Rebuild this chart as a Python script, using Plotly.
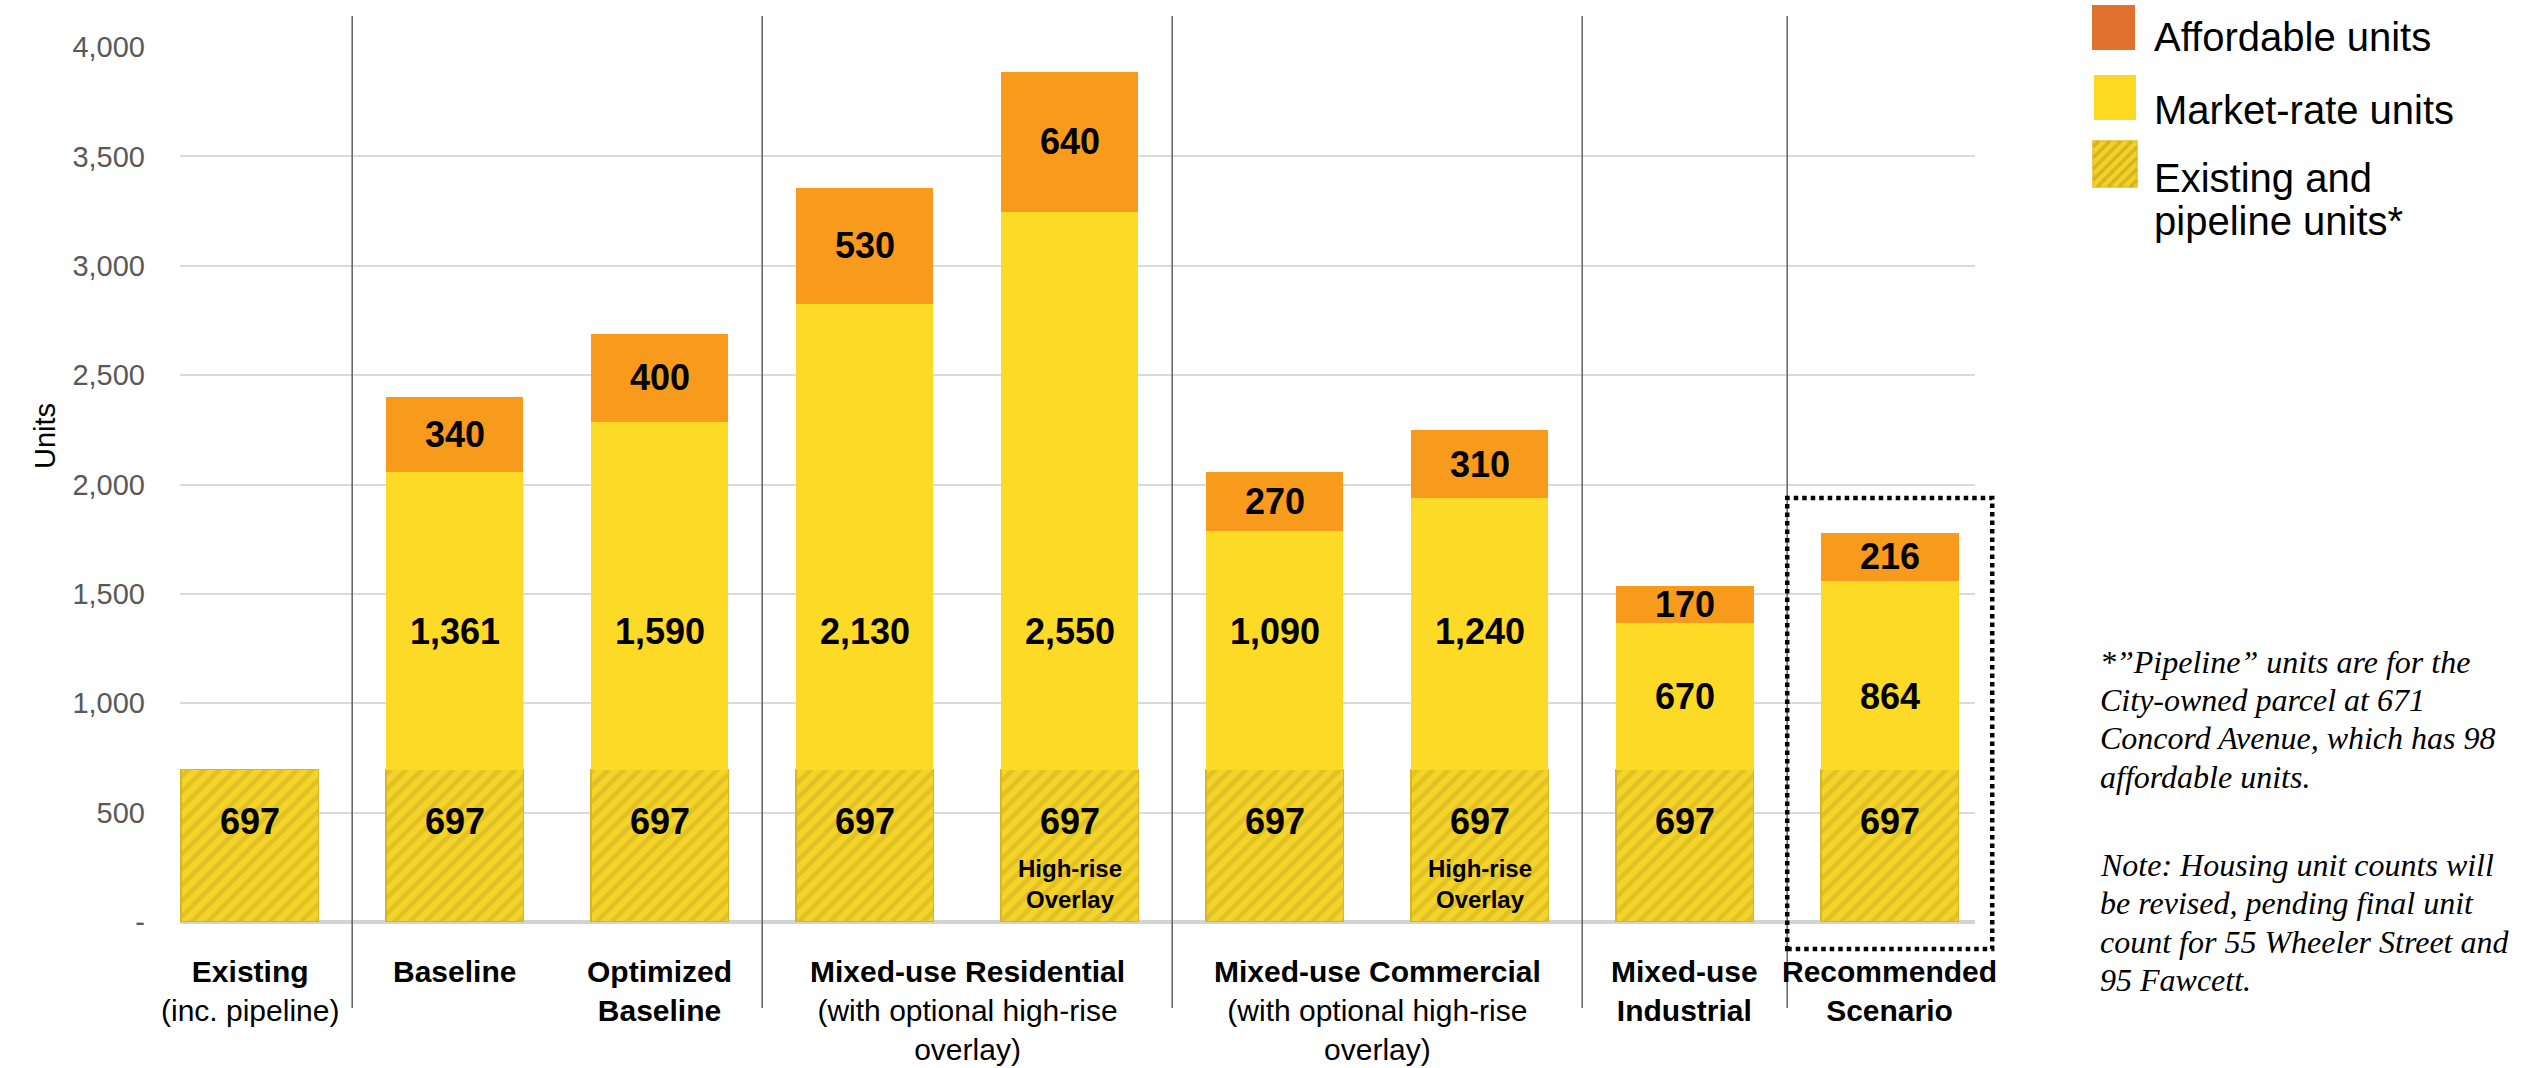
import plotly.graph_objects as go

# ---------------- data ----------------
categories = [
    "Existing",
    "Baseline",
    "Optimized Baseline",
    "Mixed-use Residential",
    "Mixed-use Residential (high-rise)",
    "Mixed-use Commercial",
    "Mixed-use Commercial (high-rise)",
    "Mixed-use Industrial",
    "Recommended Scenario",
]
existing_units = [697, 697, 697, 697, 697, 697, 697, 697, 697]
market_units = [None, 1361, 1590, 2130, 2550, 1090, 1240, 670, 864]
affordable_units = [None, 340, 400, 530, 640, 270, 310, 170, 216]
high_rise = [False, False, False, False, True, False, True, False, False]

y_ticks = [0, 500, 1000, 1500, 2000, 2500, 3000, 3500, 4000]
y_tick_text = ["-", "500", "1,000", "1,500", "2,000", "2,500", "3,000", "3,500", "4,000"]

group_labels = [
    "<b>Existing</b><br>(inc. pipeline)",
    "<b>Baseline</b>",
    "<b>Optimized<br>Baseline</b>",
    "<b>Mixed-use Residential</b><br>(with optional high-rise<br>overlay)",
    "<b>Mixed-use Commercial</b><br>(with optional high-rise<br>overlay)",
    "<b>Mixed-use<br>Industrial</b>",
    "<b>Recommended<br>Scenario</b>",
]

legend_labels = ["Affordable units", "Market-rate units", "Existing and", "pipeline units*"]

note_lines = [
    "*\u201dPipeline\u201d units are for the",
    "City-owned parcel at 671",
    "Concord Avenue, which has 98",
    "affordable units.",
    "Note: Housing unit counts will",
    "be revised, pending final unit",
    "count for 55 Wheeler Street and",
    "95 Fawcett.",
]

# ---------------- layout constants ----------------
W, H = 2526, 1068
PL, PR, PT, PB = 180, 551, 47, 146
PW, PH = W - PL - PR, H - PT - PB
X_RANGE = [-0.34, 8.416]
group_pos = [0, 1, 2, 3.5, 5.5, 7, 8]
separator_pos = [0.5, 2.5, 4.5, 6.5, 7.5]
market_label_at = [None, 1330, 1330, 1330, 1330, 1330, 1330, 1030, 1030]

SANS = "Arial, Liberation Sans, sans-serif"
SERIF = "Times New Roman, Liberation Serif, serif"

C_AFF = "#F89B1D"
C_MKT = "#FDDA25"
C_EXI = "#F5D42A"
C_HATCH = "#D0AE1E"


def px2x(px):
    return (px - PL) / PW


def py2y(py):
    return (PT + PH - py) / PH


def idx2x(i):
    return (i - X_RANGE[0]) / (X_RANGE[1] - X_RANGE[0])


fig = go.Figure()

fig.add_trace(go.Bar(
    x=categories, y=existing_units, name="Existing and pipeline units*",
    marker=dict(
        color=C_EXI,
        line=dict(color="#D6B622", width=1.5),
        pattern=dict(shape="/", fgcolor=C_HATCH, size=11, solidity=0.45),
    ),
    hoverinfo="skip",
))
fig.add_trace(go.Bar(
    x=categories, y=market_units, name="Market-rate units",
    marker=dict(color=C_MKT, line=dict(width=0)),
    hoverinfo="skip",
))
fig.add_trace(go.Bar(
    x=categories, y=affordable_units, name="Affordable units",
    marker=dict(color=C_AFF, line=dict(width=0)),
    hoverinfo="skip",
))

annotations = []
label_font = dict(family=SANS, size=36, color="black")

for i, cat in enumerate(categories):
    ex = existing_units[i]
    annotations.append(dict(
        x=cat, y=ex / 2, xref="x", yref="y", text=f"<b>{ex:,}</b>",
        showarrow=False, font=label_font, yshift=24,
    ))
    if high_rise[i]:
        annotations.append(dict(
            x=cat, y=ex / 2, xref="x", yref="y", text="<b>High-rise<br>Overlay</b>",
            showarrow=False, font=dict(family=SANS, size=24, color="black"),
            yshift=-38,
        ))
    mk = market_units[i]
    if mk:
        annotations.append(dict(
            x=cat, y=market_label_at[i], xref="x", yref="y", text=f"<b>{mk:,}</b>",
            showarrow=False, font=label_font,
        ))
    af = affordable_units[i]
    if af:
        annotations.append(dict(
            x=cat, y=ex + mk + af / 2, xref="x", yref="y", text=f"<b>{af:,}</b>",
            showarrow=False, font=label_font,
        ))

# scenario group labels under the axis
for pos, txt in zip(group_pos, group_labels):
    annotations.append(dict(
        x=idx2x(pos), y=0, xref="paper", yref="paper", text=txt,
        showarrow=False, xanchor="center", yanchor="top", yshift=-31,
        font=dict(family=SANS, size=30, color="black"), align="center",
    ))

# y-axis title
annotations.append(dict(
    x=px2x(27), y=py2y(436), xref="paper", yref="paper", text="Units",
    textangle=-90, showarrow=False, font=dict(family=SANS, size=29, color="black"),
))

# legend text
legend_text_y = [37, 110, 178, 221]
for txt, yy in zip(legend_labels, legend_text_y):
    annotations.append(dict(
        x=px2x(2152), y=py2y(yy), xref="paper", yref="paper", text=txt,
        showarrow=False, xanchor="left", yanchor="middle",
        font=dict(family=SANS, size=40, color="black"),
    ))

# footnotes
note_y = [662, 700, 738, 777, 865, 903, 942, 980]
for txt, yy in zip(note_lines, note_y):
    annotations.append(dict(
        x=px2x(2098), y=py2y(yy), xref="paper", yref="paper", text=f"<i>{txt}</i>",
        showarrow=False, xanchor="left", yanchor="middle",
        font=dict(family=SERIF, size=32, color="black"),
    ))

shapes = []
# scenario separators
for s in separator_pos:
    shapes.append(dict(
        type="line", xref="paper", yref="paper",
        x0=idx2x(s), x1=idx2x(s), y0=py2y(1008), y1=py2y(16),
        line=dict(color="#6A6A6A", width=1.6), layer="above",
    ))

# dotted frame around the recommended scenario
shapes.append(dict(
    type="rect", xref="paper", yref="paper",
    x0=idx2x(7.5), x1=idx2x(8.5), y0=py2y(949), y1=py2y(498),
    line=dict(color="black", width=4.5, dash="4.5px,4px"), fillcolor="rgba(0,0,0,0)",
    layer="above",
))

# legend swatches
shapes.append(dict(type="rect", xref="paper", yref="paper",
                   x0=px2x(2092), x1=px2x(2135), y0=py2y(50), y1=py2y(5),
                   fillcolor="#E0712F", line=dict(width=0)))
shapes.append(dict(type="rect", xref="paper", yref="paper",
                   x0=px2x(2094), x1=px2x(2136), y0=py2y(120), y1=py2y(75),
                   fillcolor="#FDD923", line=dict(width=0)))
sx0, sx1, sy0, sy1 = 2093, 2137, 141, 187
shapes.append(dict(type="rect", xref="paper", yref="paper",
                   x0=px2x(sx0), x1=px2x(sx1), y0=py2y(sy1), y1=py2y(sy0),
                   fillcolor="#F3D128", line=dict(color="#E3C21F", width=1.5)))
segs = []
c = sx0 + sy0 + 6
while c < sx1 + sy1:
    xa = max(sx0, c - sy1)
    xb = min(sx1, c - sy0)
    if xb > xa:
        segs.append(f"M{px2x(xa):.5f},{py2y(c - xa):.5f} L{px2x(xb):.5f},{py2y(c - xb):.5f}")
    c += 11
shapes.append(dict(type="path", xref="paper", yref="paper", path=" ".join(segs),
                   line=dict(color="#D7B51E", width=3.5)))

fig.update_layout(
    width=W, height=H,
    margin=dict(l=PL, r=PR, t=PT, b=PB, pad=0),
    barmode="stack", bargap=0.329,
    paper_bgcolor="white", plot_bgcolor="white",
    showlegend=False,
    annotations=annotations, shapes=shapes,
    xaxis=dict(
        type="category", categoryorder="array", categoryarray=categories,
        range=X_RANGE, showticklabels=False, showgrid=False, zeroline=False,
        showline=False, ticks="", fixedrange=True,
    ),
    yaxis=dict(
        range=[0, 4000], tickmode="array", tickvals=y_ticks, ticktext=y_tick_text,
        tickfont=dict(family=SANS, size=29, color="#595959"),
        showgrid=True, gridcolor="#DADADA", gridwidth=1.5,
        zeroline=True, zerolinecolor="#D3D3D3", zerolinewidth=3.5,
        showline=False, ticks="", ticklabelstandoff=34, fixedrange=True,
    ),
)

fig.write_html("out.html", config={"displayModeBar": False})
